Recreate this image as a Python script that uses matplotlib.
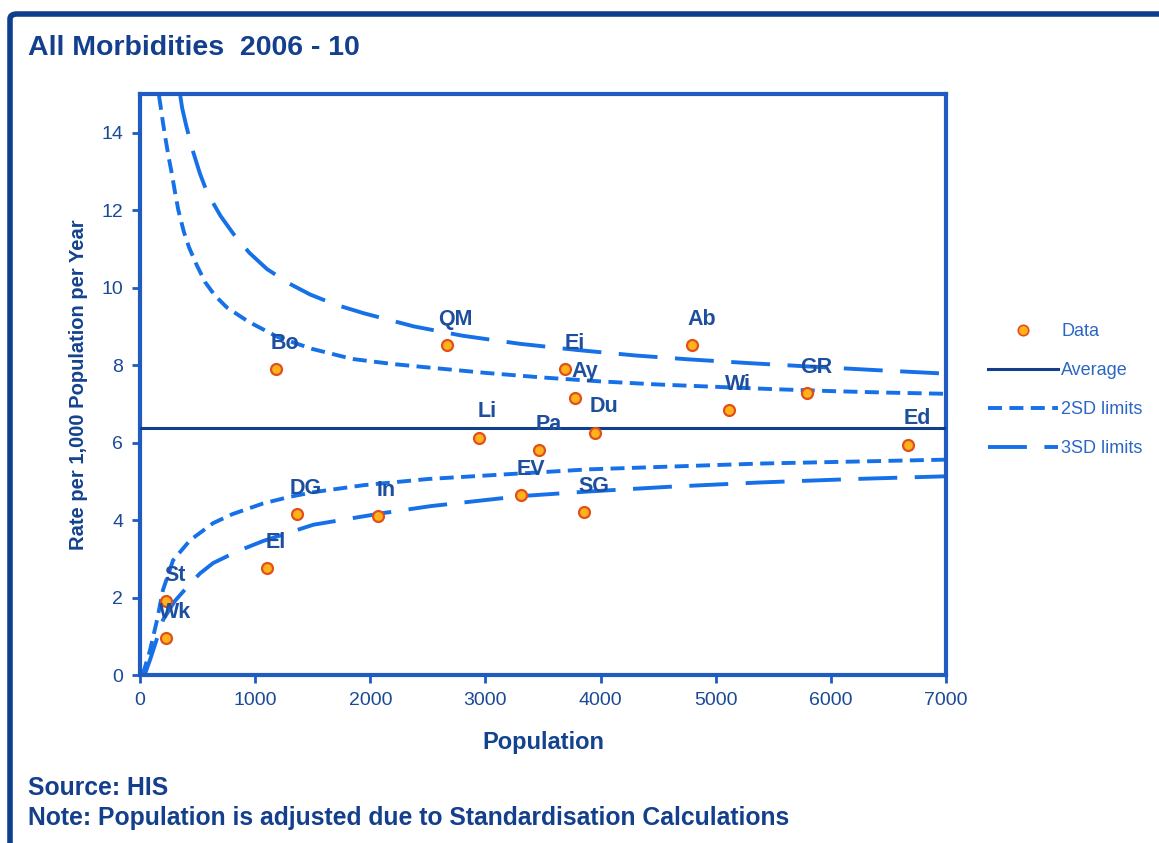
import matplotlib
matplotlib.use("Agg")
import matplotlib.pyplot as plt
from matplotlib.patches import FancyBboxPatch
from matplotlib.lines import Line2D

plt.rcParams['font.family'] = ['Liberation Sans', 'DejaVu Sans']

# ---- data ----
labels = ["Bo", "QM", "Ei", "Ab", "Ay", "Wi", "GR", "Li", "Pa", "Du", "Ed",
          "EV", "SG", "DG", "In", "El", "St", "Wk"]
population = [1180, 2663, 3695, 4797, 3781, 5117, 5794, 2940, 3469, 3955, 6670,
              3313, 3860, 1362, 2064, 1101, 225, 225]
rate = [7.89, 8.51, 7.89, 8.51, 7.16, 6.83, 7.27, 6.13, 5.80, 6.26, 5.95,
        4.64, 4.20, 4.15, 4.10, 2.76, 1.91, 0.95]

average = 6.37
avg_x = [0, 7000]

up2_x = [165, 174, 200, 224, 250, 276, 305, 333, 380, 426, 490, 566, 650, 754, 943,
         1200, 1494, 1843, 2191, 2466, 3000, 3500, 4000, 4500, 5000, 5500, 6000, 6500, 7000]
up2_y = [14.95, 14.78, 14.25, 13.80, 13.35, 12.95, 12.45, 12.00, 11.45, 11.04, 10.60, 10.14,
         9.80, 9.49, 9.12, 8.72, 8.42, 8.16, 8.03, 7.95, 7.80, 7.68, 7.58, 7.50, 7.44, 7.38,
         7.33, 7.29, 7.26]

up3_x = [350, 366, 400, 454, 520, 584, 700, 811, 950, 1103, 1300, 1480, 1700, 1943, 2378,
         2800, 3300, 3800, 4300, 4761, 5300, 5839, 6400, 7000]
up3_y = [14.95, 14.64, 14.20, 13.58, 12.95, 12.45, 11.85, 11.39, 10.90, 10.48, 10.10, 9.82,
         9.56, 9.34, 9.00, 8.76, 8.55, 8.39, 8.25, 8.15, 8.05, 7.96, 7.87, 7.78]

lo2_x = [20, 43, 87, 148, 200, 287, 435, 635, 800, 1070, 1300, 1506, 1941, 2500, 3900, 5400, 7000]
lo2_y = [0.0, 0.2, 0.64, 1.42, 2.20, 2.96, 3.48, 3.92, 4.15, 4.43, 4.60, 4.72, 4.90, 5.06,
         5.31, 5.46, 5.56]

lo3_x = [40, 87, 200, 300, 409, 520, 635, 850, 1070, 1506, 2089, 2524, 3313, 3908, 4600, 5379, 6200, 7000]
lo3_y = [0.0, 0.39, 1.42, 1.90, 2.27, 2.62, 2.89, 3.20, 3.46, 3.88, 4.17, 4.36, 4.62, 4.74,
         4.86, 4.97, 5.06, 5.13]

# ---- styling ----
navy = "#123F8C"
axis_blue = "#1F5BC0"
line_blue = "#1670E8"
label_blue = "#1E4F9F"
short_dash = (3.6, 1.9)
long_dash = (10, 4.5)

fig = plt.figure(figsize=(11.59, 8.43), dpi=100)

# outer frame
frame = FancyBboxPatch((10 / 1159, -0.2), 1.2, 1.2 - 14 / 843,
                       boxstyle="round,pad=0,rounding_size=0.006",
                       transform=fig.transFigure, fill=False,
                       edgecolor="#0E3F8F", linewidth=4, clip_on=False)
fig.patches.append(frame)

ax = fig.add_axes([140 / 1159, (843 - 675) / 843, (946 - 140) / 1159, (675 - 94) / 843])

ax.plot(avg_x, [average, average], color=navy, lw=2.2, zorder=3)
ax.plot(up2_x, up2_y, color=line_blue, lw=2.8, dashes=short_dash, zorder=2)
ax.plot(lo2_x, lo2_y, color=line_blue, lw=2.8, dashes=short_dash, zorder=2)
ax.plot(up3_x, up3_y, color=line_blue, lw=2.8, dashes=long_dash, zorder=2)
ax.plot(lo3_x, lo3_y, color=line_blue, lw=2.8, dashes=long_dash, zorder=2)

ax.scatter(population, rate, s=62, facecolor="#FFB21A", edgecolor="#E0501A",
           linewidth=1.6, zorder=5)

for lab, x, y in zip(labels, population, rate):
    ax.annotate(lab, (x, y), xytext=(6.5, 18.5), textcoords="offset points",
                ha="center", va="center", fontsize=15.5, fontweight="bold",
                color=label_blue, zorder=6)

ax.set_xlim(0, 7000)
ax.set_ylim(0, 15)
ax.set_xticks(range(0, 7001, 1000))
ax.set_yticks(range(0, 15, 2))
ax.tick_params(axis="both", colors=axis_blue, width=2, length=6, labelsize=14,
               labelcolor="#1A4A96", pad=6)
for s in ax.spines.values():
    s.set_color(axis_blue)
    s.set_linewidth(3)

ax.set_xlabel("Population", fontsize=17, fontweight="bold", color="#13428F", labelpad=16)
ax.set_ylabel("Rate per 1,000 Population per Year", fontsize=14.5, fontweight="bold",
              color="#13428F", labelpad=10)

fig.text(28 / 1159, 1 - 48 / 843, "All Morbidities  2006 - 10", fontsize=20.5,
         fontweight="bold", color="#143F8C", va="center", ha="left")
fig.text(28 / 1159, 1 - 788 / 843, "Source: HIS", fontsize=17.8,
         fontweight="bold", color="#143F8C", va="center", ha="left")
fig.text(28 / 1159, 1 - 818 / 843, "Note: Population is adjusted due to Standardisation Calculations",
         fontsize=17.8, fontweight="bold", color="#143F8C", va="center", ha="left")

handles = [
    Line2D([], [], ls="none", marker="o", markersize=7.5, markerfacecolor="#FFB21A",
           markeredgecolor="#E0501A", markeredgewidth=1.2),
    Line2D([], [], color=navy, lw=2.2),
    Line2D([], [], color=line_blue, lw=2.8, dashes=short_dash),
    Line2D([], [], color=line_blue, lw=2.8, dashes=long_dash),
]
leg = fig.legend(handles, ["Data", "Average", "2SD limits", "3SD limits"],
                 loc="center left", bbox_to_anchor=(988 / 1159, 1 - 390 / 843),
                 frameon=False, fontsize=13, handlelength=3.9, handletextpad=0.15,
                 labelspacing=1.22, borderaxespad=0, borderpad=0)
for t in leg.get_texts():
    t.set_color("#2B66C4")

fig.savefig("out.png", dpi=100)
